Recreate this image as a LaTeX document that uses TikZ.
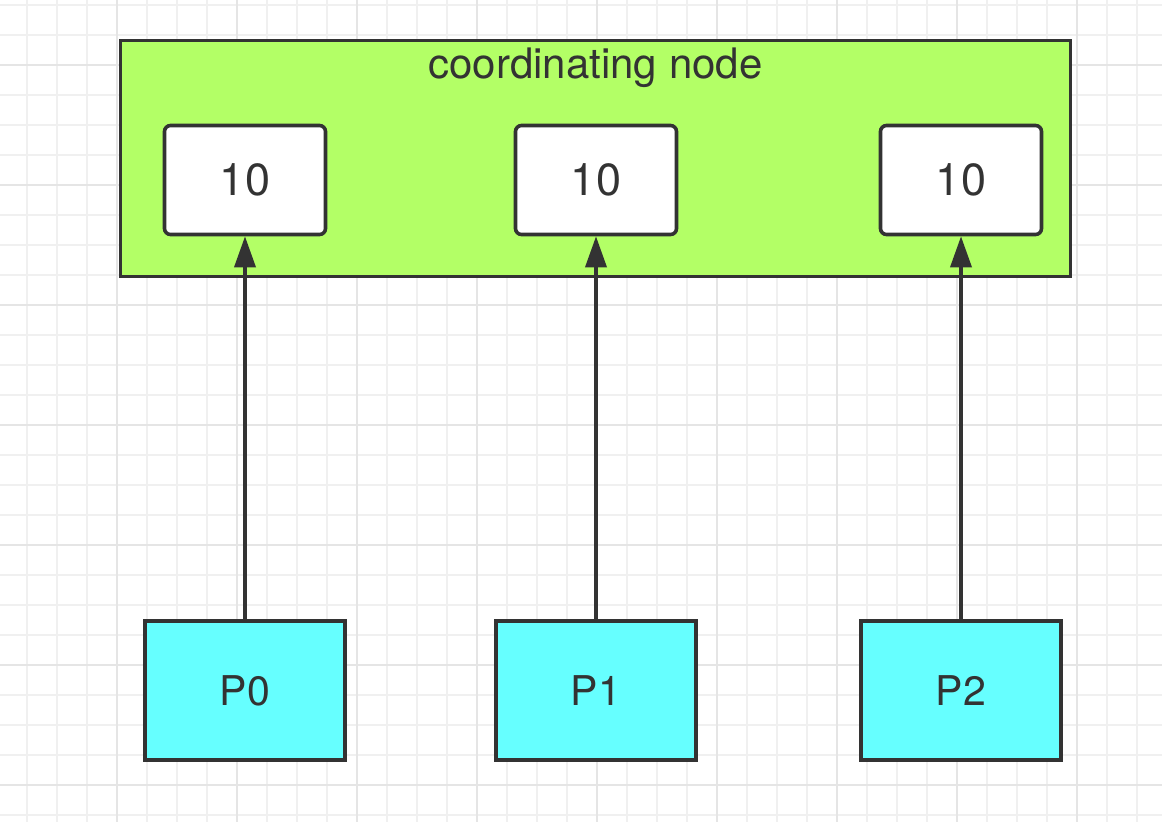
\documentclass[tikz,border=0pt]{standalone}
\usepackage{fontspec}
\setmainfont{TeX Gyre Heros}
\usetikzlibrary{arrows.meta}
\definecolor{strokec}{HTML}{333333}
\definecolor{greenc}{HTML}{B3FF66}
\definecolor{cyanc}{HTML}{66FFFF}
\definecolor{gridminor}{HTML}{F0F0F0}
\definecolor{gridmajor}{HTML}{E5E5E5}
\tikzset{
  valbox/.style={draw=strokec, fill=white, line width=3.6pt, rounded corners=6pt,
    minimum width=161pt, minimum height=109pt, inner sep=0pt, text=strokec,
    font=\fontsize{45}{54}\selectfont},
  procbox/.style={draw=strokec, fill=cyanc, line width=3.6pt,
    minimum width=200pt, minimum height=139pt, inner sep=0pt, text=strokec,
    font=\fontsize{41}{49}\selectfont},
  coordbox/.style={draw=strokec, fill=greenc, line width=3.6pt, inner sep=0pt,
    minimum width=950pt, minimum height=236pt},
  titletext/.style={text=strokec, font=\fontsize{42}{50}\selectfont, inner sep=0pt},
  conn/.style={draw=strokec, line width=3.6pt, -{Triangle[length=31pt,width=21pt]}}
}
\begin{document}
\begin{tikzpicture}[x=1pt,y=-1pt]
\useasboundingbox (0,0) rectangle (1162,822);
\fill[white] (0,0) rectangle (1162,822);
% grid
\foreach \gx in {27,57,...,1162} \draw[gridminor, line width=1.2pt] (\gx,0) -- (\gx,822);
\foreach \gy in {5,35,...,822} \draw[gridminor, line width=1.2pt] (0,\gy) -- (1162,\gy);
\foreach \gx in {117,237,...,1162} \draw[gridmajor, line width=1.2pt] (\gx,0) -- (\gx,822);
\foreach \gy in {65,185,...,822} \draw[gridmajor, line width=1.2pt] (0,\gy) -- (1162,\gy);
% coordinating node
\node[coordbox] (coord) at (595.5,158.5) {};
\node[titletext, anchor=base] (title) at (595.5,78) {coordinating node};
\node[valbox] (b0) at (245,180) {10};
\node[valbox] (b1) at (596,180) {10};
\node[valbox] (b2) at (961,180) {10};
% partitions
\node[procbox] (p0) at (245,690.5) {P0};
\node[procbox] (p1) at (596,690.5) {P1};
\node[procbox] (p2) at (961,690.5) {P2};
% arrows
\draw[conn] (p0.north) -- (b0.south);
\draw[conn] (p1.north) -- (b1.south);
\draw[conn] (p2.north) -- (b2.south);
\end{tikzpicture}
\end{document}
